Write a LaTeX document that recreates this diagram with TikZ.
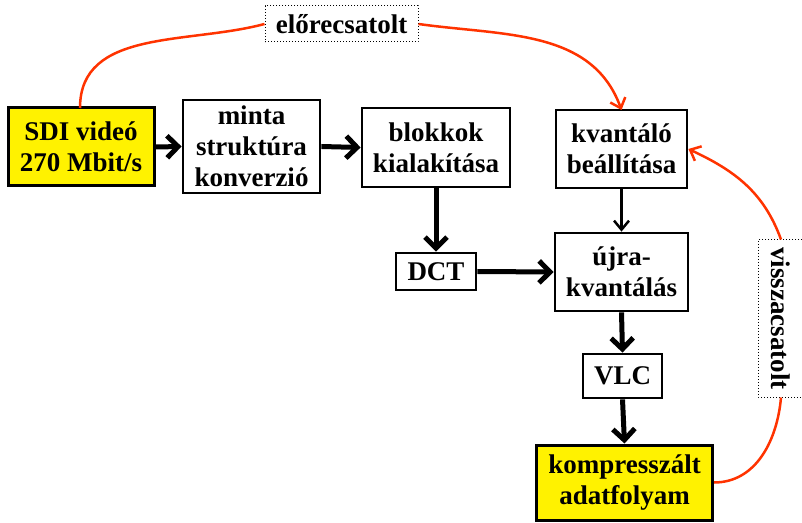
\documentclass[tikz,border=0pt]{standalone}
\usepackage{fontspec}
\setmainfont{Liberation Serif}
\usetikzlibrary{arrows.meta}
\definecolor{fbred}{RGB}{255,51,0}
\begin{document}
\begin{tikzpicture}[x=1pt,y=1pt,
  every node/.style={font=\bfseries\fontsize{27}{31}\selectfont, align=center, inner sep=0pt},
  blockbox/.style={draw, line width=2.8pt, fill=white},
  yellowbox/.style={draw, line width=3pt, fill=yellow},
  labelbox/.style={draw, dotted, line width=1pt, fill=white},
  thickarr/.style={line width=5pt, -{Straight Barb[length=11pt,width=22pt]}},
  thinarr/.style={line width=2.5pt, -{Straight Barb[length=9pt,width=15pt]}},
  redarr/.style={draw=fbred, line width=2.5pt},
  redtip/.style={-{Straight Barb[length=9pt,width=16pt]}},
]
\useasboundingbox (0,0) rectangle (802,522);
\node[yellowbox, minimum width=146pt, minimum height=78pt] (sdi) at (81,375) {SDI videó\\270 Mbit/s};
\node[blockbox, minimum width=137pt, minimum height=93pt] (minta) at (251.5,375.5) {minta\\struktúra\\konverzió};
\node[blockbox, minimum width=148pt, minimum height=79pt] (blokk) at (436,374.5) {blokkok\\kialakítása};
\node[blockbox, minimum width=131pt, minimum height=78pt] (kvant) at (621.5,373) {kvantáló\\beállítása};
\node[blockbox, minimum width=80pt, minimum height=37pt] (dct) at (436,250.5) {DCT};
\node[blockbox, minimum width=133pt, minimum height=78pt] (ujra) at (621.5,250) {újra-\\kvantálás};
\node[blockbox, minimum width=79pt, minimum height=44pt] (vlc) at (622.5,146) {VLC};
\node[yellowbox, minimum width=176pt, minimum height=75pt] (komp) at (624.5,39.5) {kompresszált\\adatfolyam};
\node[labelbox, minimum width=153pt, minimum height=36pt] (elore) at (341.5,498) {előrecsatolt};
\node[labelbox, minimum width=157pt, minimum height=46pt, rotate=-90] (vissza) at (781,203.5) {visszacsatolt};

\draw[thickarr] (sdi.east) -- (minta.west);
\draw[thickarr] (minta.east) -- (blokk.west);
\draw[thickarr] (blokk.south) -- (dct.north);
\draw[thickarr] (dct.east) -- (ujra.west);
\draw[thinarr] (kvant.south) -- (ujra.north);
\draw[thickarr] (ujra.south) -- (vlc.north);
\draw[thickarr] (vlc.south) -- (komp.north);

\coordinate (sditop) at (80,414);
\coordinate (kvtop) at (621.5,412);
\draw[redarr] (sditop) to[out=90,in=195] (elore.west);
\draw[redarr, redtip] (elore.east) to[out=-8,in=110] (kvtop);
\draw[redarr] (komp.east) to[out=0,in=-95] (vissza.east);
\draw[redarr, redtip] (vissza.west) to[out=110,in=-25] (kvant.east);
\end{tikzpicture}
\end{document}
